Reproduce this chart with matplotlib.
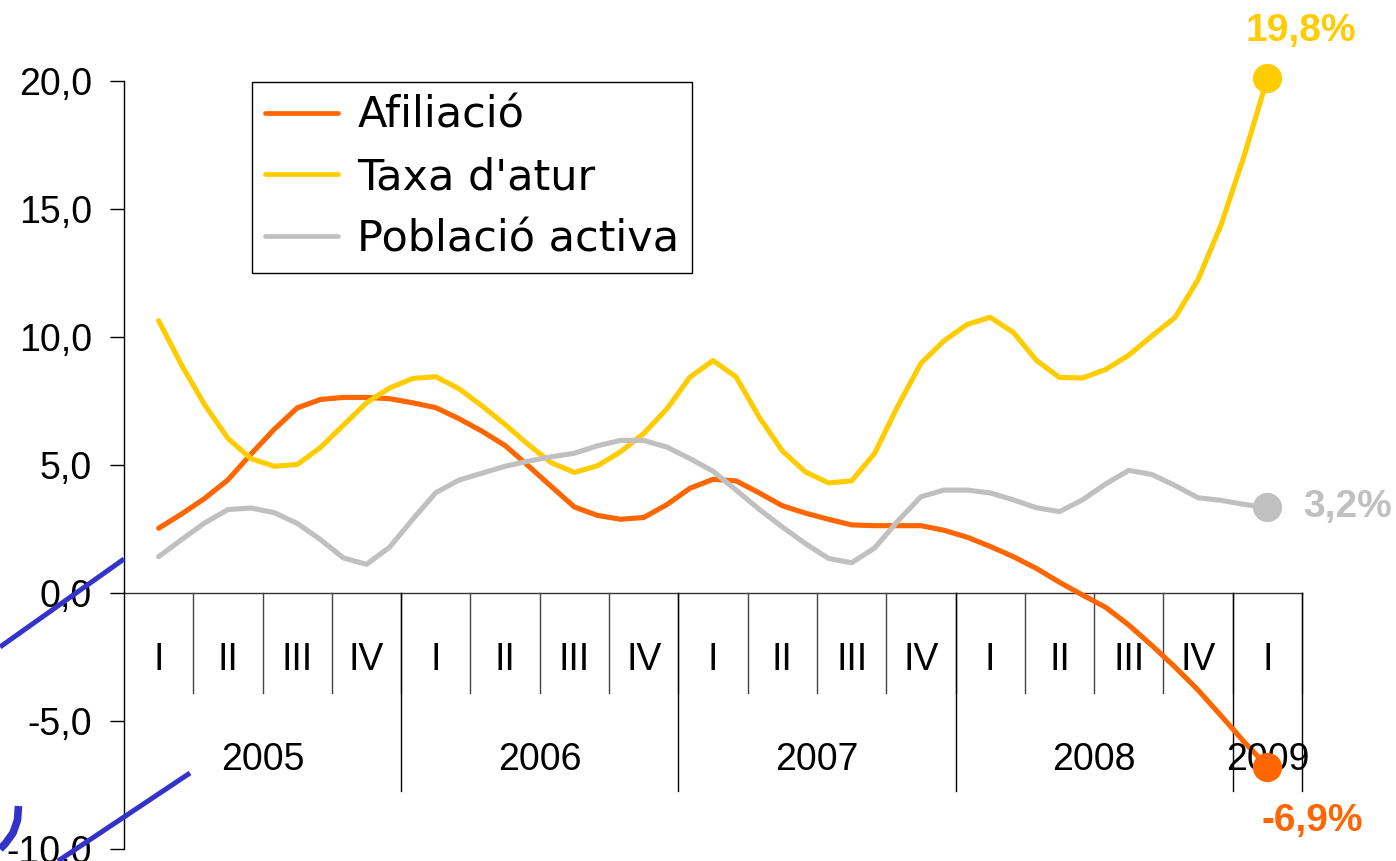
import matplotlib
matplotlib.use("Agg")
import matplotlib.pyplot as plt
from matplotlib.lines import Line2D
import numpy as np


# ─────────────────────────────────────────────
#  DATA (year-on-year change, %, monthly readings)
# ─────────────────────────────────────────────
afiliacio = [2.53, 3.09, 3.70, 4.42, 5.43, 6.39, 7.23, 7.56, 7.64, 7.64, 7.59, 7.43,
             7.24, 6.81, 6.32, 5.76, 4.97, 4.16, 3.36, 3.03, 2.88, 2.95, 3.45,
             4.09, 4.44, 4.38, 3.91, 3.41, 3.12, 2.88, 2.66, 2.63, 2.63, 2.63,
             2.45, 2.18, 1.82, 1.42, 0.96, 0.42, -0.08, -0.56, -1.25, -2.05, -2.89,
             -3.79, -4.80, -5.82, -6.78]

taxa_atur = [10.64, 8.89, 7.34, 6.04, 5.25, 4.95, 5.02, 5.68, 6.56, 7.43, 8.01, 8.38,
             8.45, 7.98, 7.31, 6.58, 5.80, 5.09, 4.71, 4.97, 5.52, 6.23, 7.19,
             8.43, 9.08, 8.44, 6.87, 5.55, 4.73, 4.30, 4.38, 5.46, 7.30, 8.97,
             9.85, 10.49, 10.77, 10.18, 9.09, 8.42, 8.40, 8.73, 9.29, 10.04, 10.76,
             12.24, 14.39, 17.09, 20.1]

poblacio = [1.42, 2.09, 2.74, 3.26, 3.32, 3.14, 2.72, 2.09, 1.37, 1.12, 1.79, 2.88,
            3.92, 4.41, 4.68, 4.95, 5.15, 5.32, 5.46, 5.75, 5.96, 5.96, 5.70,
            5.25, 4.76, 4.02, 3.27, 2.58, 1.93, 1.35, 1.18, 1.76, 2.81, 3.76,
            4.02, 4.02, 3.91, 3.64, 3.33, 3.18, 3.64, 4.26, 4.79, 4.63, 4.20,
            3.72, 3.62, 3.46, 3.34]

series_names = ["Afiliació", "Taxa d'atur", "Població activa"]
end_labels = ["-6,9%", "19,8%", "3,2%"]

quarters = ["I", "II", "III", "IV"] * 4 + ["I"]
years = ["2005", "2006", "2007", "2008", "2009"]
quarters_per_year = [4, 4, 4, 4, 1]

y_ticks = [-10, -5, 0, 5, 10, 15, 20]

# ─────────────────────────────────────────────
#  STYLE
# ─────────────────────────────────────────────
ORANGE = "#FF6600"
YELLOW = "#FFCC00"
GREY = "#C0C0C0"
BLUE = "#3333CC"
plt.rcParams["font.family"] = ["Liberation Sans", "DejaVu Sans"]

W, H = 1396, 861
fig = plt.figure(figsize=(W / 100, H / 100), dpi=100)
ax = fig.add_axes([124 / W, 12 / H, 1178 / W, 768 / H])

n_q = len(quarters)
ax.set_xlim(0, n_q)
ax.set_ylim(-10, 20)

# monthly points, first one in the middle of quarter I-2005
x = 0.5 + np.arange(len(afiliacio)) / 3.0

lw = 3.7
series = [(afiliacio, ORANGE), (taxa_atur, YELLOW), (poblacio, GREY)]
for (vals, col), name in zip(series, series_names):
    ax.plot(x, vals, color=col, lw=lw, solid_joinstyle="round",
            solid_capstyle="round", label=name, zorder=3, clip_on=False)
    ax.plot(x[-1], vals[-1], "o", color=col, ms=20, zorder=4, clip_on=False)

# end-point labels
ax.annotate(end_labels[1], (x[-1], taxa_atur[-1]), xytext=(24, 34),
            textcoords="offset points", ha="center", va="center",
            color=YELLOW, fontsize=28, fontweight="bold", annotation_clip=False)
ax.annotate(end_labels[2], (x[-1], poblacio[-1]), xytext=(26, 0),
            textcoords="offset points", ha="left", va="center",
            color=GREY, fontsize=28, fontweight="bold", annotation_clip=False)
ax.annotate(end_labels[0], (x[-1], afiliacio[-1]), xytext=(32, -39),
            textcoords="offset points", ha="center", va="center",
            color=ORANGE, fontsize=28, fontweight="bold", annotation_clip=False)

# ── Axes ──
for s in ["top", "right", "bottom"]:
    ax.spines[s].set_visible(False)
ax.spines["left"].set_linewidth(1.0)
ax.axhline(0, color="#333333", lw=1.0, zorder=2, clip_on=False)
ax.set_yticks(y_ticks)
ax.set_yticklabels([f"{v:.1f}".replace(".", ",") for v in y_ticks])
ax.tick_params(axis="y", direction="out", length=10, width=1, pad=13,
               labelsize=27)
ax.set_xticks([])

# category dividers and labels below the zero line
q_bottom = -3.9
y_bottom = -7.73
for i in range(1, n_q + 1):
    ax.plot([i, i], [0, q_bottom], color="#444444", lw=1.0, clip_on=False)
for i, q in enumerate(quarters):
    ax.text(i + 0.5, -2.62, q, ha="center", va="center", fontsize=27,
            clip_on=False)

start = 0
for yr, nq in zip(years, quarters_per_year):
    end = start + nq
    ax.plot([end, end], [0, y_bottom], color="black", lw=1.0, clip_on=False)
    ax.text((start + end) / 2, -6.52, yr, ha="center", va="center",
            fontsize=27, clip_on=False)
    start = end

# ── Legend ──
leg = ax.legend(loc="upper left", bbox_to_anchor=(251.7 / W, 1 - 81.7 / H),
                bbox_transform=fig.transFigure, borderaxespad=0,
                prop={"family": "DejaVu Sans", "size": 31},
                handlelength=1.7, handletextpad=0.45, labelspacing=0.46,
                borderpad=0.3, fancybox=False, framealpha=1)
leg.get_frame().set_edgecolor("black")
leg.get_frame().set_linewidth(1.0)
for h in leg.get_lines():
    h.set_linewidth(3.4)

# ── Stray blue connector strokes at the lower left ──
def px_line(xs, ys, lw_):
    fig.add_artist(Line2D([v / W for v in xs], [1 - v / H for v in ys],
                          transform=fig.transFigure, color=BLUE, lw=lw_,
                          solid_capstyle="butt"))

px_line([0, 124], [647, 559], 3.6)
px_line([58, 190], [861, 773], 3.6)
px_line([18.5, 17.5, 13, 5, 0], [806, 820, 833, 844, 849], 5.5)

fig.savefig("out.png", dpi=100)
